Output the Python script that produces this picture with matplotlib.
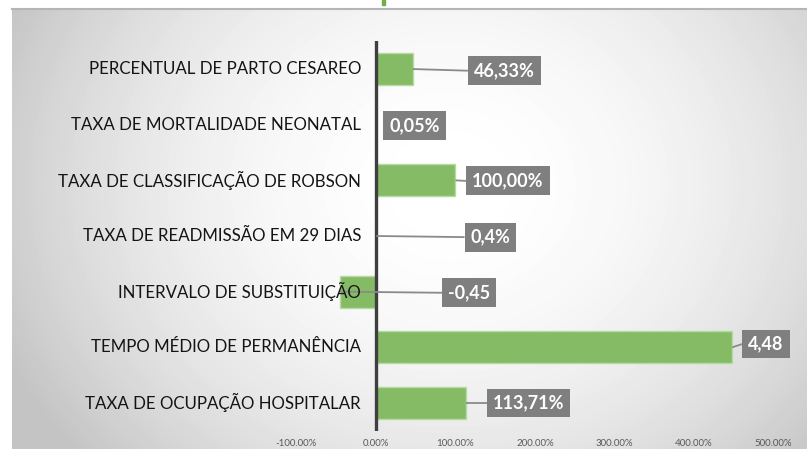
import numpy as np
import matplotlib.pyplot as plt
from matplotlib.patches import Rectangle
from matplotlib.lines import Line2D

# ---------------- data ----------------
categories = [
    "TAXA DE OCUPAÇÃO HOSPITALAR",
    "TEMPO MÉDIO DE PERMANÊNCIA",
    "INTERVALO DE SUBSTITUIÇÃO",
    "TAXA DE READMISSÃO EM 29 DIAS",
    "TAXA DE CLASSIFICAÇÃO DE ROBSON",
    "TAXA DE MORTALIDADE NEONATAL",
    "PERCENTUAL DE PARTO CESAREO",
]
values = [1.1371, 4.48, -0.45, 0.004, 1.0, 0.0005, 0.4633]
value_labels = ["113,71%", "4,48", "-0,45", "0,4%", "100,00%", "0,05%", "46,33%"]
tick_values = [-1, 0, 1, 2, 3, 4, 5]
tick_labels = ["-100.00%", "0.00%", "100.00%", "200.00%", "300.00%", "400.00%", "500.00%"]

# label box placement (layout only, data units)
label_x = [1.916, 4.906, 1.175, 1.44, 1.66, 0.484, 1.614]
label_dy = [0.0, 0.06, -0.02, -0.02, -0.01, -0.02, -0.03]

W, H = 807, 449
fig = plt.figure(figsize=(W / 100, H / 100), dpi=100)
fig.patch.set_facecolor("white")

# background radial gradient panel
x0, y0 = 12, 9
bg = fig.add_axes([x0 / W, 0, 1 - x0 / W, (H - y0) / H], zorder=-10)
xx, yy = np.meshgrid(np.arange(x0, W) + 0.5, np.arange(y0, H) + 0.5)
r2 = ((xx - 450) / 420) ** 2 + ((yy - 185) / 360) ** 2
col = np.clip(255 - 44 * r2, 196, 255) / 255.0
bg.imshow(col, cmap="gray", vmin=0, vmax=1, aspect="auto", interpolation="bilinear")
bg.axis("off")
fig.add_artist(Line2D([x0 / W, 1], [(H - y0) / H, (H - y0) / H], color="#b5b5b5", lw=1.5,
                      transform=fig.transFigure))
fig.add_artist(Rectangle((382 / W, (H - 5) / H), 3 / W, 5 / H, color="#70AD47",
                         transform=fig.transFigure))

# main axes
left_px, right_px = 296.4, 773.6
top_px, bot_px = 41.2, 430.8
ax = fig.add_axes([left_px / W, (H - bot_px) / H, (right_px - left_px) / W, (bot_px - top_px) / H])
ax.set_facecolor("none")
ax.set_xlim(-1, 5)
ax.set_ylim(-0.5, 6.5)

ypos = np.arange(len(categories))
ax.barh(ypos, values, height=0.575, color="#85BB65", edgecolor="#B6DBA2", linewidth=1.0, zorder=2)
ax.axvline(0, color="#3f3f3f", lw=2.4, zorder=3)

for sp in ax.spines.values():
    sp.set_visible(False)
ax.set_yticks([])
ax.set_xticks(tick_values)
ax.set_xticklabels(tick_labels, fontsize=7, color="#595959", family="Lato")
ax.tick_params(axis="x", length=0, pad=6)

# category labels next to the zero line
for i, c in enumerate(categories):
    ax.annotate(c, xy=(0, i), xytext=(-15, 0), textcoords="offset pixels",
                ha="right", va="center", fontsize=12.2, color="#141414", family="Lato", zorder=5)

# value labels
texts = []
for i, (v, lab) in enumerate(zip(values, value_labels)):
    t = ax.text(label_x[i], i + label_dy[i], lab, ha="center", va="center", fontsize=13,
                fontweight="bold", color="white", family="Lato", zorder=6,
                bbox=dict(boxstyle="square,pad=0.33", facecolor="#7f7f7f", edgecolor="none"))
    texts.append(t)

fig.canvas.draw()
inv = ax.transData.inverted()
for i, (v, t) in enumerate(zip(values, texts)):
    ext = t.get_bbox_patch().get_window_extent()
    bar_end_px = ax.transData.transform((v, i))
    gap = ext.x0 - bar_end_px[0]
    if gap > 10:
        lx, ly = inv.transform((ext.x0, (ext.y0 + ext.y1) / 2))
        ax.plot([v, lx], [i, ly], color="#8a8a8a", lw=1.3, zorder=4, solid_capstyle="butt")

fig.savefig("out.png", dpi=100, facecolor="white")
